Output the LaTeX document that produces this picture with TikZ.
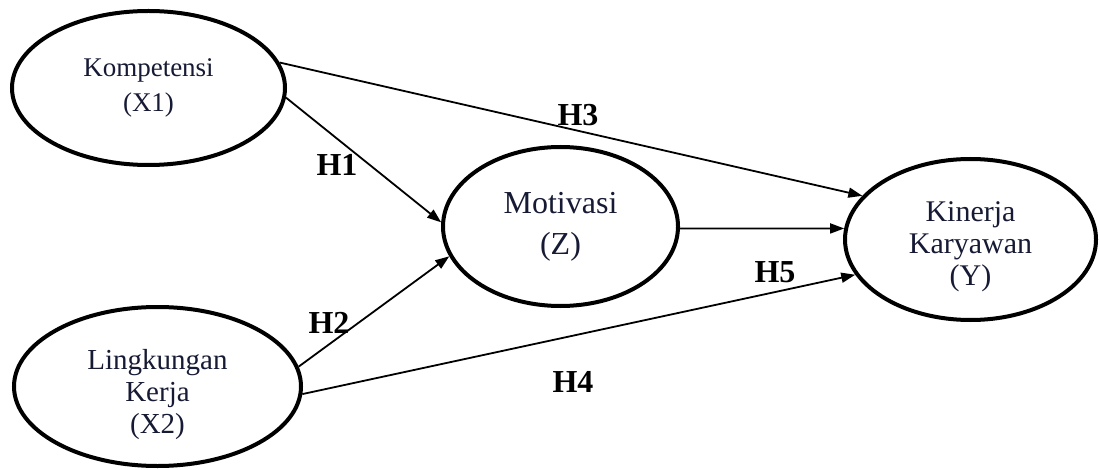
\documentclass[tikz,border=0pt]{standalone}
\usepackage{fontspec}
\setmainfont{Liberation Serif}
\usetikzlibrary{shapes.geometric,arrows.meta}
\definecolor{txt}{RGB}{22,26,52}
\newcommand{\lowerlines}[2]{\raisebox{#1}[0pt][0pt]{\begin{tabular}{@{}c@{}}#2\end{tabular}}}
\begin{document}
\begin{tikzpicture}[x=1pt,y=-1pt,
  var/.style={ellipse,draw=black,line width=4pt,inner sep=0pt,align=center,text=txt},
  arr/.style={line width=1.8pt,-{Triangle[length=14pt,width=10pt]}},
  hyp/.style={font=\fontsize{32}{34}\selectfont\bfseries,text=black}]
\useasboundingbox (0,0) rectangle (1099,470);
\node[var,minimum width=273pt,minimum height=154pt,font=\fontsize{27}{35}\selectfont] (k) at (148.5,88) {Kompetensi\\(X1)};
\node[var,minimum width=287pt,minimum height=159pt,font=\fontsize{29}{32}\selectfont] (l) at (157.5,386.5) {\lowerlines{-15pt}{Lingkungan\\Kerja\\(X2)}};
\node[var,minimum width=235pt,minimum height=159pt,font=\fontsize{32}{41}\selectfont] (m) at (560.5,226.5) {Motivasi\\(Z)};
\node[var,minimum width=251pt,minimum height=161pt,font=\fontsize{30}{32}\selectfont] (y) at (970.5,239.5) {\lowerlines{-13.5pt}{Kinerja\\Karyawan\\(Y)}};

\draw[arr] (k.11) -- (y.158);
\draw[arr] (k.-4) -- (m.178);
\draw[arr] (l.8) -- (m.195);
\draw[arr] (l.-3) -- (y.197);
\draw[arr] (m.-1.5) -- (y.175.5);

\node[hyp] (h1) at (337,165) {H1};
\node[hyp] (h3) at (578,115) {H3};
\node[hyp] (h2) at (329,323) {H2};
\node[hyp] (h5) at (775,272) {H5};
\node[hyp] (h4) at (573,382) {H4};
\end{tikzpicture}
\end{document}
